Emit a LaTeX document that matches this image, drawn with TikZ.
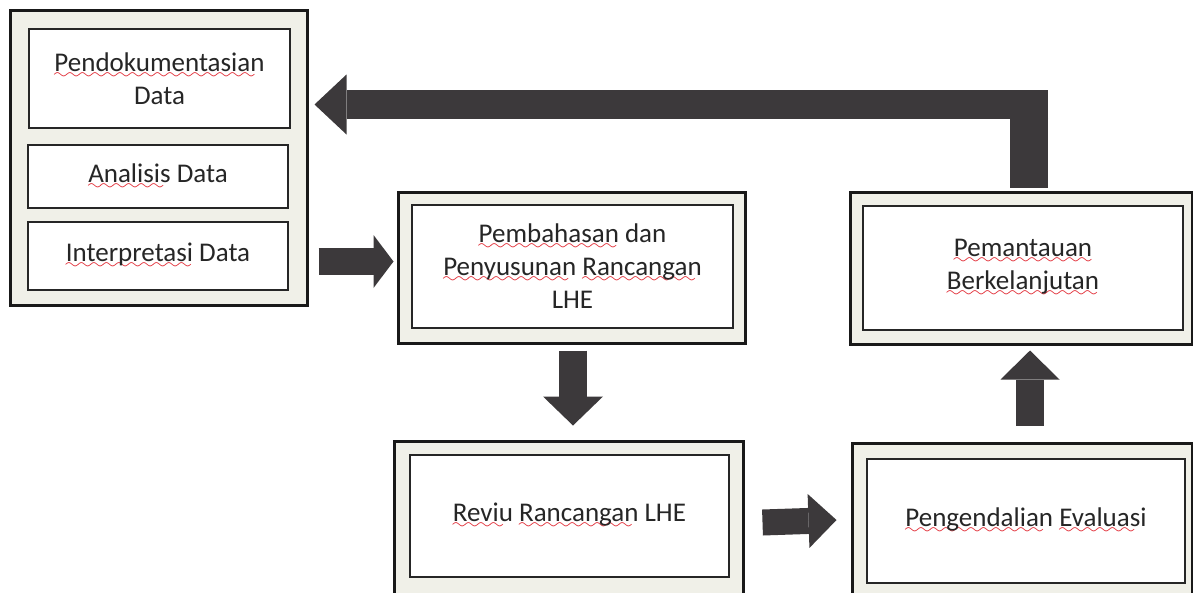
\documentclass[tikz,border=0pt]{standalone}
\usepackage{fontspec}
\setmainfont{Carlito}
\usetikzlibrary{arrows.meta,positioning,calc}

\definecolor{blokgray}{HTML}{3C393B}
\definecolor{kotakbg}{HTML}{F0F0E8}
\definecolor{salahred}{HTML}{E0202A}

% Red wavy underline as in the scanned document
\font\wavefont=lasy6 at 15pt
\newcommand{\salah}[1]{\setbox0\hbox{#1}%
    \rlap{\textcolor{salahred}{\lower7pt\hbox to\wd0{\leaders\hbox{\wavefont\char58}\hfill}}}\box0\relax}

\begin{document}
\begin{tikzpicture}[x=1pt, y=-1pt]
        % Styles for the framed boxes and the block arrows
        \tikzset{
            luar/.style={draw=black!90, line width=3pt, fill=kotakbg, inner sep=0pt},
            dalam/.style={draw=black!85, line width=1.8pt, fill=white, inner sep=0pt,
                align=center, text=black!85, font=\fontsize{27}{33}\selectfont},
            blok/.style={draw=blokgray, line cap=butt, line join=miter},
        }
        \useasboundingbox (0,0) rectangle (1193,592);

        % Left column
        \node[luar, minimum width=297pt, minimum height=295pt] (olah) at (158.5,157.5) {};
        \node[dalam, minimum width=261pt, minimum height=99pt] (dok) at (159.5,78.5)
            {\salah{Pendokumentasian}\\Data};
        \node[dalam, minimum width=260pt, minimum height=63pt] (ana) at (158,176.5)
            {\salah{Analisis} Data};
        \node[dalam, minimum width=260pt, minimum height=68pt] (intp) at (158,256)
            {\salah{Interpretasi} Data};

        % Middle column
        \node[luar, minimum width=347pt, minimum height=151pt] (bahas) at (571.5,267.5) {};
        \node[dalam, minimum width=321pt, minimum height=123pt] (bahasin) at (572.5,266.5)
            {\salah{Pembahasan} dan\\\salah{Penyusunan} \salah{Rancangan}\\LHE};
        \node[luar, minimum width=349pt, minimum height=155pt] (reviu) at (568.5,518.5) {};
        \node[dalam, minimum width=319pt, minimum height=122pt] (reviuin) at (569.5,516)
            {\salah{Reviu} \salah{Rancangan} LHE};

        % Right column
        \node[luar, minimum width=342pt, minimum height=152pt] (pantau) at (1021,268) {};
        \node[dalam, minimum width=320pt, minimum height=124pt] (pantauin) at (1023,268)
            {\salah{Pemantauan}\\\salah{Berkelanjutan}};
        \node[luar, minimum width=340pt, minimum height=153pt] (kendali) at (1022,519.5) {};
        \node[dalam, minimum width=318pt, minimum height=124pt] (kendaliin) at (1026,521)
            {\salah{Pengendalian} \salah{Evaluasi}};

        % Block arrows
        \begin{scope}[blok]
            \draw[line width=27pt, -{Triangle[length=20pt,width=53pt,line width=0pt]}]
                ($(olah.east |- bahas.west)+(10,-6)$) -- ($(bahas.west)+(-3,-6)$);
            \draw[line width=28pt, -{Triangle[length=29pt,width=60pt,line width=0pt]}]
                ($(bahas.south)+(1.5,6)$) -- ($(reviu.north)+(4.5,-14)$);
            \draw[line width=26pt, -{Triangle[length=28pt,width=54pt,line width=0pt]}]
                ($(reviu.east)+(18,4)$) -- ($(kendali.west)+(-14,0.5)$);
            \draw[line width=28pt, -{Triangle[length=29pt,width=59pt,line width=0pt]}]
                ($(kendali.north)+(8,-16)$) -- ($(pantau.south)+(9,5)$);

            % Feedback from Pemantauan back to the left column
            \coordinate (belok) at ($(pantau.north)+(8,-86)$);
            \draw[line width=38pt] ($(pantau.north)+(8,-3)$) -- ($(belok)+(0,-14)$);
            \draw[line width=29pt, -{Triangle[length=32pt,width=60pt,line width=0pt]}]
                ($(belok)+(19,0)$) -- ($(olah.east |- belok)+(6,0)$);
        \end{scope}
\end{tikzpicture}
\end{document}
